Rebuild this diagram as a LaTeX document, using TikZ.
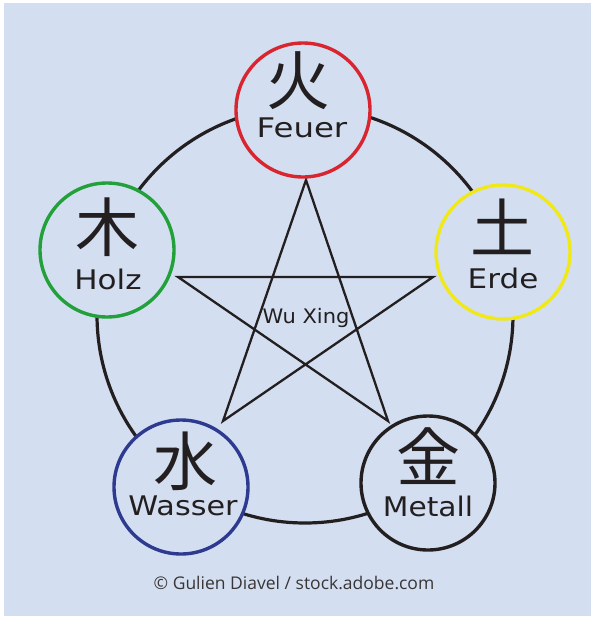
\documentclass[tikz,border=0pt]{standalone}
\usepackage{fontspec}
\setmainfont{DejaVu Sans}
\newfontfamily\cjkf{Noto Sans CJK JP}
\newfontfamily\credf{Open Sans}
\definecolor{bgblue}{HTML}{D3DFF0}
\definecolor{ink}{HTML}{231F20}
\definecolor{cred}{HTML}{D9252F}
\definecolor{cgreen}{HTML}{22A03A}
\definecolor{cyellow}{HTML}{F1E81A}
\definecolor{cblue}{HTML}{2E3A8F}
\definecolor{cblack}{HTML}{231F20}
\tikzset{
  elem/.style={circle, draw=#1, line width=3.4pt, fill=bgblue, minimum size=134pt, inner sep=0pt},
  kanji/.style={text=ink, font=\cjkf\fontsize{64}{64}\selectfont},
  lbl/.style={text=ink, font=\fontsize{27}{27}\selectfont},
  starline/.style={draw=ink, line width=2.3pt, line join=miter},
}
\begin{document}
\begin{tikzpicture}[x=1pt,y=-1pt]
\useasboundingbox (0,0) rectangle (594,619);
\fill[white] (0,0) rectangle (594,619);
\fill[bgblue] (4,3) rectangle (591,616);
% big circle
\coordinate (c) at (305,315);
\draw[ink, line width=3.2pt] (c) circle[radius=208];
% star
\coordinate (s1) at (306,180);
\coordinate (s2) at (433,277);
\coordinate (s3) at (388,421);
\coordinate (s4) at (223,421);
\coordinate (s5) at (178,277);
\draw[starline] (s1) -- (s3) -- (s5) -- (s2) -- (s4) -- cycle;
\node[text=ink, font=\fontsize{20}{20}\selectfont] (wx) at (306,318) {\scalebox{1.05}[1]{Wu Xing}};
% elements
\node[elem=cred] (feuer) at (303,110) {};
\node[elem=cgreen] (holz) at (107,250) {};
\node[elem=cyellow] (erde) at (503,252) {};
\node[elem=cblue] (wasser) at (181,487) {};
\node[elem=cblack] (metall) at (428,483) {};
\node[kanji] (k1) at (298,81) {火};
\node[lbl] (t1) at (302,128) {\scalebox{1.2}[1]{Feuer}};
\node[kanji] (k2) at (107,227) {木};
\node[lbl] (t2) at (108,279) {\scalebox{1.15}[1]{Holz}};
\node[kanji] (k3) at (502,227) {土};
\node[lbl] (t3) at (503,278) {\scalebox{1.15}[1]{Erde}};
\node[kanji] (k4) at (185,461) {水};
\node[lbl] (t4) at (183,506) {\scalebox{1.12}[1]{Wasser}};
\node[kanji] (k5) at (428,456) {金};
\node[lbl] (t5) at (428,506) {\scalebox{1.1}[1]{Metall}};
% credit
\node[text=ink!90, font=\credf\fontsize{17.5}{17.5}\selectfont] (cr) at (294,583) {© Gulien Diavel / stock.adobe.com};
\end{tikzpicture}
\end{document}
